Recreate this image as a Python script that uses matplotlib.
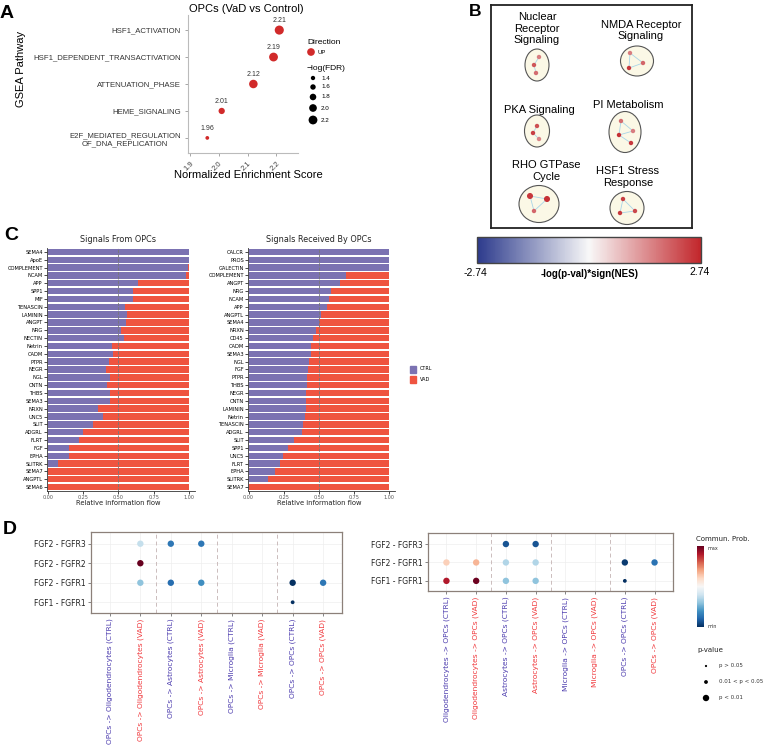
import numpy as np
import matplotlib
matplotlib.use("Agg")
import matplotlib.pyplot as plt
from matplotlib.patches import Ellipse, Rectangle
from matplotlib.colors import LinearSegmentedColormap, Normalize
from matplotlib.colorbar import ColorbarBase

# ---------------- data ----------------
# A: GSEA bubble plot
gsea_terms = ["HSF1_ACTIVATION", "HSF1_DEPENDENT_TRANSACTIVATION", "ATTENUATION_PHASE",
              "HEME_SIGNALING", "E2F_MEDIATED_REGULATION\nOF_DNA_REPLICATION"]
gsea_nes = [2.21, 2.19, 2.12, 2.01, 1.96]
gsea_logfdr = [2.25, 2.2, 2.15, 1.75, 1.3]
fdr_breaks = [1.4, 1.6, 1.8, 2.0, 2.2]
nes_ticks = [1.9, 2.0, 2.1, 2.2]

# B: enrichment map clusters (node score = -log(p)*sign(NES))
cluster_names = ["Nuclear\nReceptor\nSignaling", "NMDA Receptor\nSignaling", "PKA Signaling",
                 "PI Metabolism", "RHO GTPase\nCycle", "HSF1 Stress\nResponse"]
cluster_scores = [[1.6, 2.1, 1.8], [1.6, 1.9, 2.5], [2.2, 2.4, 1.5],
                  [1.8, 1.6, 2.6, 2.5], [2.5, 2.6, 1.9], [2.4, 2.3, 2.5]]
cluster_genes = [[1, 1, 1], [1, 1, 1], [1, 1, 1], [1, 1, 1, 1], [2, 2, 1], [1, 1, 1]]
score_lim = 2.74

# C: relative information flow (CTRL share)
from_opcs = ["SEMA4", "ApoE", "COMPLEMENT", "NCAM", "APP", "SPP1", "MIF", "TENASCIN",
             "LAMININ", "ANGPT", "NRG", "NECTIN", "Netrin", "CADM", "PTPR", "NEGR", "NGL",
             "CNTN", "THBS", "SEMA3", "NRXN", "UNC5", "SLIT", "ADGRL", "FLRT", "FGF",
             "EPHA", "SLITRK", "SEMA7", "ANGPTL", "SEMA6"]
from_ctrl = [1.0, 1.0, 0.995, 0.98, 0.64, 0.605, 0.605, 0.545, 0.562, 0.552, 0.517, 0.536,
             0.453, 0.464, 0.436, 0.41, 0.438, 0.419, 0.438, 0.438, 0.358, 0.393, 0.318,
             0.251, 0.223, 0.147, 0.152, 0.069, 0.0, 0.0, 0.0]
to_opcs = ["CALCR", "PROS", "GALECTIN", "COMPLEMENT", "ANGPT", "NRG", "NCAM", "APP",
           "ANGPTL", "SEMA4", "NRXN", "CD45", "CADM", "SEMA3", "NGL", "FGF", "PTPR", "THBS",
           "NEGR", "CNTN", "LAMININ", "Netrin", "TENASCIN", "ADGRL", "SLIT", "SPP1", "UNC5",
           "FLRT", "EPHA", "SLITRK", "SEMA7"]
to_ctrl = [1.0, 1.0, 1.0, 0.692, 0.649, 0.585, 0.576, 0.557, 0.517, 0.502, 0.479, 0.462,
           0.448, 0.445, 0.429, 0.424, 0.419, 0.417, 0.412, 0.407, 0.407, 0.405, 0.391,
           0.384, 0.327, 0.28, 0.244, 0.223, 0.185, 0.137, 0.0]
flow_ticks = [0.0, 0.25, 0.5, 0.75, 1.0]

# D: FGF ligand-receptor dot plots
lr_out = ["FGF2 - FGFR3", "FGF2 - FGFR2", "FGF2 - FGFR1", "FGF1 - FGFR1"]
pairs_out = ["OPCs -> Oligodendrocytes (CTRL)", "OPCs -> Oligodendrocytes (VAD)",
             "OPCs -> Astrocytes (CTRL)", "OPCs -> Astrocytes (VAD)",
             "OPCs -> Microglia (CTRL)", "OPCs -> Microglia (VAD)",
             "OPCs -> OPCs (CTRL)", "OPCs -> OPCs (VAD)"]
out_row = [0, 0, 0, 1, 2, 2, 2, 2, 2, 3]
out_col = [1, 2, 3, 1, 1, 2, 3, 6, 7, 6]
out_prob = [0.38, 0.14, 0.14, 1.0, 0.3, 0.12, 0.19, 0.0, 0.14, 0.0]
out_pcat = [3, 3, 3, 3, 3, 3, 3, 3, 3, 2]

lr_in = ["FGF2 - FGFR3", "FGF2 - FGFR1", "FGF1 - FGFR1"]
pairs_in = ["Oligodendrocytes -> OPCs (CTRL)", "Oligodendrocytes -> OPCs (VAD)",
            "Astrocytes -> OPCs (CTRL)", "Astrocytes -> OPCs (VAD)",
            "Microglia -> OPCs (CTRL)", "Microglia -> OPCs (VAD)",
            "OPCs -> OPCs (CTRL)", "OPCs -> OPCs (VAD)"]
in_row = [0, 0, 1, 1, 1, 1, 1, 1, 2, 2, 2, 2, 2]
in_col = [2, 3, 0, 1, 2, 3, 6, 7, 0, 1, 2, 3, 6]
in_prob = [0.07, 0.07, 0.62, 0.67, 0.35, 0.35, 0.02, 0.13, 0.9, 0.99, 0.3, 0.3, 0.0]
in_pcat = [3, 3, 3, 3, 3, 3, 3, 3, 3, 3, 3, 3, 2]
pval_labels = ["p > 0.05", "0.01 < p < 0.05", "p < 0.01"]

# ---------------- figure ----------------
W, H = 766, 750
fig = plt.figure(figsize=(W / 100, H / 100), dpi=100)


def rect(l, t, r, b):
    return [l / W, 1 - b / H, (r - l) / W, (b - t) / H]


ARIAL = "Liberation Sans"
RED_A = "#d12a2a"
PURPLE = "#7b72b2"
REDC = "#ef5440"
CTRL_TXT = "#4c3cae"
VAD_TXT = "#f0383c"

ov = fig.add_axes([0, 0, 1, 1], zorder=10)
ov.set_xlim(0, W)
ov.set_ylim(H, 0)
ov.axis("off")


def size_a(v):
    d = 3.2 + (np.asarray(v) - 1.2) * 5.6
    return (0.72 * d) ** 2


# ---- A ----
axA = fig.add_axes(rect(188, 15, 298, 153))
ya = np.arange(len(gsea_terms))
axA.scatter(gsea_nes, ya, s=size_a(gsea_logfdr), color=RED_A, zorder=3, edgecolors="none")
for x, y in zip(gsea_nes, ya):
    axA.annotate(f"{x:.2f}", (x, y), xytext=(0, 4.5), textcoords="offset points",
                 ha="center", va="bottom", fontsize=5, family=ARIAL, color="#333")
axA.set_xlim(1.893, 2.275)
axA.set_ylim(4.56, -0.56)
axA.set_yticks(ya)
axA.set_yticklabels(gsea_terms, fontsize=5.6, family=ARIAL, color="#333",
                    multialignment="center")
axA.set_xticks(nes_ticks)
axA.set_xticklabels([f"{t:.1f}" for t in nes_ticks], rotation=45, ha="right",
                    rotation_mode="anchor", fontsize=5.5, family=ARIAL, color="#444")
axA.tick_params(length=2, color="#999", width=0.6, pad=3)
for s in ["top", "right"]:
    axA.spines[s].set_visible(False)
for s in ["left", "bottom"]:
    axA.spines[s].set_color("#bbbbbb")
    axA.spines[s].set_linewidth(0.8)

ov.text(7, 13, "A", fontsize=14, fontweight="bold", family=ARIAL, ha="center", va="center")
ov.text(246, 9, "OPCs (VaD vs Control)", fontsize=8, family=ARIAL, ha="center", va="center")
ov.text(21, 69, "GSEA Pathway", fontsize=8, family=ARIAL, rotation=90, ha="center", va="center")
ov.text(248, 175, "Normalized Enrichment Score", fontsize=8, family=ARIAL, ha="center",
        va="center")
ov.text(307, 42, "Direction", fontsize=6, family=ARIAL, va="center")
ov.scatter([311], [52], s=size_a(2.0), color=RED_A, edgecolors="none")
ov.text(318, 52, "UP", fontsize=4.2, family=ARIAL, va="center")
ov.text(307, 69, "\u2212log(FDR)", fontsize=6, family=ARIAL, va="center")
leg_y = [78, 87, 97, 108, 120]
ov.scatter([313] * len(fdr_breaks), leg_y, s=size_a(fdr_breaks), color="black",
           edgecolors="none")
for b, y in zip(fdr_breaks, leg_y):
    ov.text(321, y, f"{b:.1f}", fontsize=4.5, family=ARIAL, va="center")

# ---- B ----
cmap_b = LinearSegmentedColormap.from_list("nes", ["#2c3a8c", "#f8f8f8", "#c2262b"])
norm_b = Normalize(-score_lim, score_lim)
axB = fig.add_axes(rect(491, 5, 692, 228))
axB.set_xlim(491, 692)
axB.set_ylim(228, 5)
axB.set_xticks([])
axB.set_yticks([])
for s in axB.spines.values():
    s.set_linewidth(1.3)
    s.set_color("#222")

b_text = [(537, 28.5), (641, 30.5), (539, 110), (628, 105), (546, 171), (628, 177)]
b_ell = [(537, 65, 24, 32), (637, 61, 33, 30), (537, 131, 25, 32),
         (625, 132, 32, 41), (539, 204, 40, 37), (627, 208, 34, 33)]
b_nodes = [[(2, -8), (-3, 0), (-1, 8)],
           [(-7, -8), (6, 2), (-8, 7)],
           [(0, -5), (-4, 2), (2, 8)],
           [(-4, -11), (8, -1), (-6, 3), (6, 11)],
           [(-9, -8), (8, -5), (-5, 7)],
           [(-4, -9), (8, 3), (-7, 5)]]
b_edges = [[(0, 1), (1, 2)], [(0, 1), (1, 2), (0, 2)], [(0, 1), (1, 2)],
           [(0, 2), (2, 1), (2, 3), (0, 1)], [(0, 1), (0, 2), (1, 2)],
           [(0, 1), (1, 2), (0, 2)]]
for name, (tx, ty), (ex, ey, ew, eh), nodes, edges, sc, gn in zip(
        cluster_names, b_text, b_ell, b_nodes, b_edges, cluster_scores, cluster_genes):
    axB.text(tx, ty, name, fontsize=8, family=ARIAL, ha="center", va="center",
             linespacing=1.15)
    axB.add_patch(Ellipse((ex, ey), ew, eh, facecolor="#fbf8e6", edgecolor="#555",
                          linewidth=0.8))
    nx = [ex + dx for dx, dy in nodes]
    ny = [ey + dy for dx, dy in nodes]
    for i, j in edges:
        axB.plot([nx[i], nx[j]], [ny[i], ny[j]], color="#a9d5e6", lw=0.6, zorder=2)
    axB.scatter(nx, ny, s=[10 + 9 * (g - 1) for g in gn], c=cmap_b(norm_b(sc)),
                edgecolors="none", zorder=3)

caxB = fig.add_axes(rect(477, 237, 701, 263))
cbB = ColorbarBase(caxB, cmap=cmap_b, norm=norm_b, orientation="horizontal")
cbB.set_ticks([])
cbB.outline.set_edgecolor("#444")
cbB.outline.set_linewidth(1.0)
ov.text(475, 273, f"-{score_lim:.2f}", fontsize=7.5, family=ARIAL, ha="center", va="center")
ov.text(700, 272, f"{score_lim:.2f}", fontsize=7.5, family=ARIAL, ha="center", va="center")
ov.text(590, 274, "-log(p-val)*sign(NES)", fontsize=7, fontweight="bold", family=ARIAL,
        ha="center", va="center")
ov.text(475, 11, "B", fontsize=12.5, fontweight="bold", family=ARIAL, ha="center",
        va="center")


# ---- C ----
def flow_panel(r, names, ctrl, title, tx):
    ax = fig.add_axes(r)
    y = np.arange(len(names))
    ctrl = np.asarray(ctrl)
    ax.barh(y, ctrl, height=0.82, color=PURPLE)
    ax.barh(y, 1 - ctrl, left=ctrl, height=0.82, color=REDC)
    ax.axvline(0.5, color="#777", ls="--", lw=0.6, zorder=3)
    ax.set_ylim(len(names) - 0.5, -0.5)
    ax.set_yticks(y)
    ax.set_yticklabels(names, fontsize=3.7)
    ax.set_xticks(flow_ticks)
    ax.set_xticklabels([f"{t:.2f}" for t in flow_ticks], fontsize=3.5, color="#555")
    ax.tick_params(length=2, width=0.5, pad=1)
    for s in ["top", "right"]:
        ax.spines[s].set_visible(False)
    for s in ["left", "bottom"]:
        ax.spines[s].set_linewidth(0.6)
        ax.spines[s].set_color("#333")
    ov.text(tx, 240, title, fontsize=5.9, ha="center", va="center", color="#222")
    ov.text(tx, 503, "Relative information flow", fontsize=4.9, ha="center", va="center",
            color="#222")
    return ax


axC1 = flow_panel(rect(47, 248, 195, 491), from_opcs, from_ctrl, "Signals From OPCs", 118)
axC1.set_xlim(-0.007, 1.043)
axC2 = flow_panel(rect(248, 248, 395, 491), to_opcs, to_ctrl, "Signals Received By OPCs", 319)
axC2.set_xlim(-0.004, 1.043)
ov.add_patch(Rectangle((410, 365.5), 6, 7, color=PURPLE))
ov.add_patch(Rectangle((410, 376), 6, 7, color=REDC))
ov.text(420, 369, "CTRL", fontsize=3.5, va="center")
ov.text(420, 379.5, "VAD", fontsize=3.5, va="center")
ov.text(11, 235, "C", fontsize=14, fontweight="bold", ha="center", va="center",
        family=ARIAL)

# ---- D ----
cmap_d = plt.get_cmap("RdBu_r")
pdiam = {1: 2.2, 2: 3.8, 3: 6.4}


def dot_panel(r, rows, cols, probs, pcats, ylabels, xlabels):
    ax = fig.add_axes(r)
    ax.scatter(cols, rows, s=[(0.72 * pdiam[p]) ** 2 for p in pcats],
               c=cmap_d(np.asarray(probs)), edgecolors="none", zorder=3)
    for x in [1.5, 3.5, 5.5]:
        ax.axvline(x, color="#cbbcbc", ls=(0, (4, 3)), lw=0.7, zorder=1)
    ax.set_xlim(-0.62, 7.62)
    ax.set_ylim(len(ylabels) - 0.45, -0.6)
    ax.set_xticks(range(len(xlabels)))
    ax.set_xticklabels(xlabels, rotation=90, fontsize=5.4)
    for lab, t in zip(ax.get_xticklabels(), xlabels):
        lab.set_color(CTRL_TXT if "CTRL" in t else VAD_TXT)
    ax.set_yticks(range(len(ylabels)))
    ax.set_yticklabels(ylabels, fontsize=5.5, color="#222")
    ax.grid(color="#eeeeee", lw=0.5)
    ax.set_axisbelow(True)
    ax.tick_params(length=2, width=0.5, color="#555", pad=2)
    for s in ax.spines.values():
        s.set_color("#8c8079")
        s.set_linewidth(0.9)
    return ax


dot_panel(rect(91, 532, 342, 613), out_row, out_col, out_prob, out_pcat, lr_out, pairs_out)
dot_panel(rect(428, 533, 673, 591), in_row, in_col, in_prob, in_pcat, lr_in, pairs_in)
ov.text(10, 529, "D", fontsize=14, fontweight="bold", ha="center", va="center", family=ARIAL)

caxD = fig.add_axes(rect(697, 546, 704, 627))
cbD = ColorbarBase(caxD, cmap=cmap_d, norm=Normalize(0, 1), orientation="vertical")
cbD.set_ticks([])
cbD.outline.set_visible(False)
ov.text(696, 539, "Commun. Prob.", fontsize=5, va="center", color="#222")
ov.text(707, 549, "max", fontsize=3.5, va="center", color="#333")
ov.text(707, 626, "min", fontsize=3.5, va="center", color="#333")
ov.text(697, 650, "p-value", fontsize=5, va="center", color="#222")
py = [666, 682, 698]
ov.scatter([706] * 3, py, s=[(0.72 * pdiam[k]) ** 2 for k in [1, 2, 3]], color="black",
           edgecolors="none")
for lab, y in zip(pval_labels, py):
    ov.text(719, y, lab, fontsize=4, va="center", color="#333")

fig.savefig("out.png", dpi=100)
